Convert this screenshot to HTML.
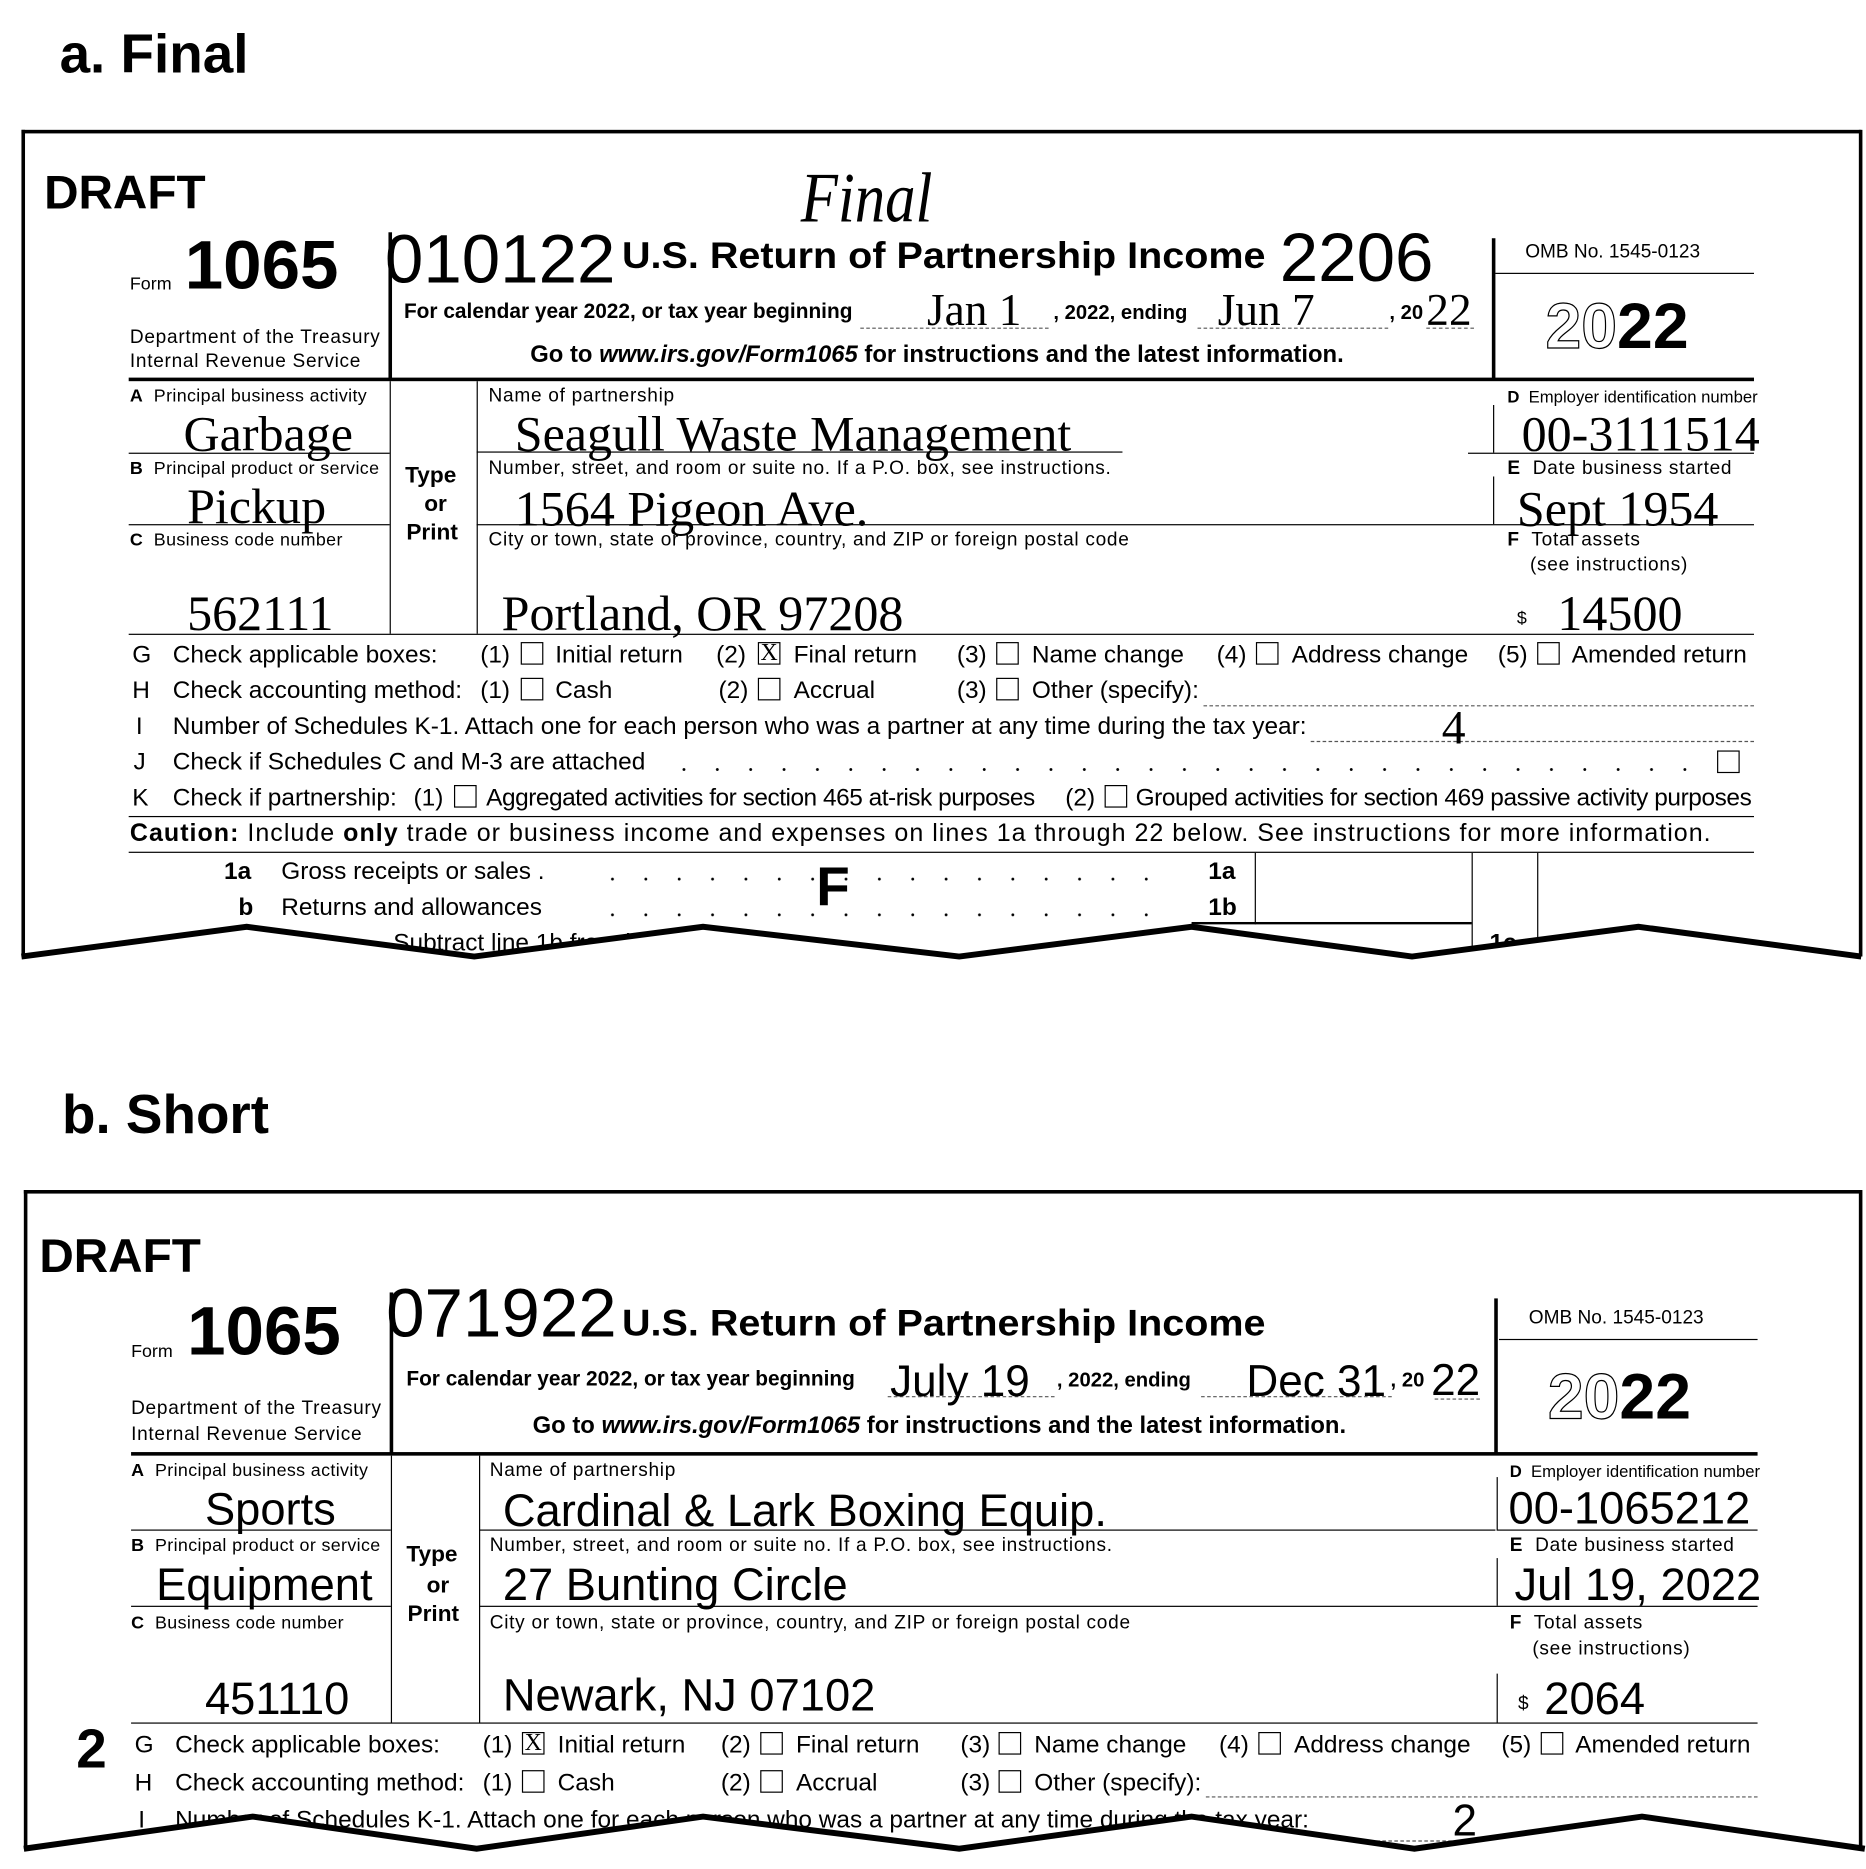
<!DOCTYPE html>
<html><head><meta charset="utf-8">
<style>
html,body{margin:0;padding:0;background:#fff;}
body{width:1866px;height:1869px;overflow:hidden;position:relative;}
#c{position:absolute;left:0;top:0;width:1566px;height:1569px;transform:scale(1.19157,1.1912);transform-origin:0 0;font-family:"Liberation Sans",sans-serif;color:#000;}
.t{position:absolute;white-space:nowrap;line-height:1;}
.s{font-family:"Liberation Serif",serif;}
.b{font-weight:bold;}
.l{font-size:16px;letter-spacing:0.6px;}
.ls{font-size:15px;letter-spacing:0.3px;}
.r{font-size:20.5px;}
.h{position:absolute;border-top:1px solid #000;height:0;}
.v{position:absolute;border-left:1px solid #000;width:0;}
.d{position:absolute;border-top:1px dashed #555;height:0;}
.cb{position:absolute;width:17px;height:17px;border:1px solid #000;font-size:20px;line-height:17px;text-align:center;font-family:"Liberation Serif",serif;}
.dots{position:absolute;height:4px;background-image:radial-gradient(circle,#000 1px,transparent 1.4px);background-size:28px 4px;}
.o{color:#fff;-webkit-text-stroke:1px #000;}
.ti{font-size:31px;transform:scaleX(1.07);transform-origin:0 0;}
</style></head><body><div id="c">

<!-- ================= PANEL A ================= -->
<div class="t b" style="left:50px;top:22px;font-size:46px;">a. Final</div>
<div class="h" style="left:18px;top:109px;width:1544px;border-top-width:3px;"></div>
<div class="v" style="left:18px;top:109px;height:694px;border-left-width:3px;"></div>
<div class="v" style="left:1560px;top:109px;height:694px;border-left-width:3px;"></div>

<div class="t b" style="left:37px;top:142px;font-size:40px;">DRAFT</div>
<div class="t s" style="left:672px;top:136px;font-size:60px;font-style:italic;transform:scaleX(0.85);transform-origin:0 0;">Final</div>
<div class="t" style="left:109px;top:231px;font-size:15px;">Form</div>
<div class="t b" style="left:155px;top:194px;font-size:58px;">1065</div>
<div class="t l" style="left:109px;top:276px;">Department of the Treasury</div>
<div class="t l" style="left:109px;top:296px;">Internal Revenue Service</div>
<div class="v" style="left:326px;top:195px;height:123px;border-left-width:3px;"></div>
<div class="t" style="left:323px;top:189px;font-size:58px;">010122</div>
<div class="t b ti" style="left:522px;top:199px;">U.S. Return of Partnership Income</div>
<div class="t" style="left:1074px;top:188px;font-size:58px;">2206</div>
<div class="t b" style="left:339px;top:253px;font-size:17.5px;">For calendar year 2022, or tax year beginning</div>
<div class="d" style="left:722px;top:275px;width:158px;"></div>
<div class="t s" style="left:778px;top:242px;font-size:38px;">Jan 1</div>
<div class="t b" style="left:884px;top:254px;font-size:17px;">, 2022, ending</div>
<div class="d" style="left:1005px;top:275px;width:160px;"></div>
<div class="t s" style="left:1022px;top:242px;font-size:38px;">Jun 7</div>
<div class="t b" style="left:1166px;top:254px;font-size:17px;">, 20</div>
<div class="t s" style="left:1197px;top:242px;font-size:38px;">22</div>
<div class="d" style="left:1197px;top:275px;width:40px;"></div>
<div class="t b" style="left:445px;top:288px;font-size:20px;">Go to <i>www.irs.gov/Form1065</i> for instructions and the latest information.</div>
<div class="v" style="left:1252px;top:200px;height:118px;border-left-width:3px;"></div>
<div class="t" style="left:1280px;top:204px;font-size:16px;">OMB No. 1545-0123</div>
<div class="h" style="left:1255px;top:229px;width:217px;"></div>
<div class="t b" style="left:1297px;top:247px;font-size:54px;"><span class="o">20</span>22</div>
<div class="h" style="left:108px;top:317px;width:1364px;border-top-width:3px;"></div>

<div class="v" style="left:327px;top:320px;height:212px;"></div>
<div class="v" style="left:400px;top:320px;height:212px;"></div>
<div class="t ls" style="left:109px;top:325px;"><b>A</b>&nbsp; Principal business activity</div>
<div class="t s" style="left:154px;top:344px;font-size:42px;">Garbage</div>
<div class="h" style="left:108px;top:380px;width:219px;"></div>
<div class="t ls" style="left:109px;top:386px;"><b>B</b>&nbsp; Principal product or service</div>
<div class="t s" style="left:157px;top:405px;font-size:42px;">Pickup</div>
<div class="h" style="left:108px;top:440px;width:219px;"></div>
<div class="t ls" style="left:109px;top:446px;"><b>C</b>&nbsp; Business code number</div>
<div class="t s" style="left:157px;top:495px;font-size:42px;">562111</div>
<div class="t b" style="left:340px;top:390px;font-size:19px;">Type</div>
<div class="t b" style="left:356px;top:414px;font-size:19px;">or</div>
<div class="t b" style="left:341px;top:438px;font-size:19px;">Print</div>
<div class="t l" style="left:410px;top:325px;">Name of partnership</div>
<div class="t s" style="left:432px;top:344px;font-size:42px;">Seagull Waste Management</div>
<div class="h" style="left:400px;top:379px;width:542px;"></div>
<div class="t l" style="left:410px;top:386px;">Number, street, and room or suite no. If a P.O. box, see instructions.</div>
<div class="t s" style="left:432px;top:407px;font-size:42px;">1564 Pigeon Ave.</div>
<div class="h" style="left:400px;top:440px;width:1072px;"></div>
<div class="t l" style="left:410px;top:446px;">City or town, state or province, country, and ZIP or foreign postal code</div>
<div class="t s" style="left:421px;top:495px;font-size:42px;">Portland, OR 97208</div>
<div class="t b" style="left:1265px;top:326px;font-size:14px;">D&nbsp; <span style="font-weight:normal">Employer identification number</span></div>
<div class="t s" style="left:1277px;top:344px;font-size:42px;">00-3111514</div>
<div class="v" style="left:1253px;top:340px;height:40px;"></div>
<div class="h" style="left:1232px;top:380px;width:240px;"></div>
<div class="t l" style="left:1265px;top:386px;"><b>E</b>&nbsp; Date business started</div>
<div class="t s" style="left:1273px;top:407px;font-size:42px;">Sept 1954</div>
<div class="v" style="left:1253px;top:400px;height:40px;"></div>
<div class="t l" style="left:1265px;top:446px;"><b>F</b>&nbsp; Total assets</div>
<div class="t l" style="left:1284px;top:467px;">(see instructions)</div>
<div class="t" style="left:1273px;top:512px;font-size:15px;">$</div>
<div class="t s" style="left:1307px;top:495px;font-size:42px;">14500</div>
<div class="h" style="left:108px;top:532px;width:1364px;"></div>

<!-- G -->
<div class="t r" style="left:111px;top:540px;">G</div>
<div class="t r" style="left:145px;top:540px;">Check applicable boxes:</div>
<div class="t r" style="left:403px;top:540px;">(1)</div><div class="cb" style="left:437px;top:539px;"></div><div class="t r" style="left:466px;top:540px;">Initial return</div>
<div class="t r" style="left:601px;top:540px;">(2)</div><div class="cb" style="left:636px;top:539px;">X</div><div class="t r" style="left:666px;top:540px;">Final return</div>
<div class="t r" style="left:803px;top:540px;">(3)</div><div class="cb" style="left:836px;top:539px;"></div><div class="t r" style="left:866px;top:540px;">Name change</div>
<div class="t r" style="left:1021px;top:540px;">(4)</div><div class="cb" style="left:1054px;top:539px;"></div><div class="t r" style="left:1084px;top:540px;">Address change</div>
<div class="t r" style="left:1257px;top:540px;">(5)</div><div class="cb" style="left:1290px;top:539px;"></div><div class="t r" style="left:1319px;top:540px;">Amended return</div>
<!-- H -->
<div class="t r" style="left:111px;top:570px;">H</div>
<div class="t r" style="left:145px;top:570px;">Check accounting method:</div>
<div class="t r" style="left:403px;top:570px;">(1)</div><div class="cb" style="left:437px;top:569px;"></div><div class="t r" style="left:466px;top:570px;">Cash</div>
<div class="t r" style="left:603px;top:570px;">(2)</div><div class="cb" style="left:636px;top:569px;"></div><div class="t r" style="left:666px;top:570px;">Accrual</div>
<div class="t r" style="left:803px;top:570px;">(3)</div><div class="cb" style="left:836px;top:569px;"></div><div class="t r" style="left:866px;top:570px;">Other (specify):</div>
<div class="d" style="left:1010px;top:592px;width:462px;"></div>
<!-- I -->
<div class="t r" style="left:114px;top:600px;">I</div>
<div class="t r" style="left:145px;top:600px;">Number of Schedules K-1. Attach one for each person who was a partner at any time during the tax year:</div>
<div class="d" style="left:1100px;top:622px;width:372px;"></div>
<div class="t s" style="left:1210px;top:591px;font-size:40px;">4</div>
<!-- J -->
<div class="t r" style="left:112px;top:630px;">J</div>
<div class="t r" style="left:145px;top:630px;">Check if Schedules C and M-3 are attached</div>
<div class="dots" style="left:560px;top:644px;width:880px;"></div>
<div class="cb" style="left:1441px;top:630px;"></div>
<!-- K -->
<div class="t r" style="left:111px;top:660px;">K</div>
<div class="t r" style="left:145px;top:660px;">Check if partnership:</div>
<div class="t r" style="left:347px;top:660px;">(1)</div><div class="cb" style="left:381px;top:659px;"></div>
<div class="t r" style="left:408px;top:660px;letter-spacing:-0.4px;">Aggregated activities for section 465 at-risk purposes</div>
<div class="t r" style="left:894px;top:660px;">(2)</div><div class="cb" style="left:927px;top:659px;"></div>
<div class="t r" style="left:953px;top:660px;letter-spacing:-0.35px;">Grouped activities for section 469 passive activity purposes</div>
<div class="h" style="left:108px;top:685px;width:1364px;"></div>
<div class="t" style="left:109px;top:689px;font-size:21px;letter-spacing:0.85px;"><b>Caution:</b> Include <b>only</b> trade or business income and expenses on lines 1a through 22 below. See instructions for more information.</div>
<div class="h" style="left:108px;top:715px;width:1364px;"></div>
<div class="t b r" style="left:188px;top:722px;">1a</div>
<div class="t r" style="left:236px;top:722px;">Gross receipts or sales .</div>
<div class="dots" style="left:500px;top:736px;width:480px;"></div>
<div class="t b" style="left:685px;top:721px;font-size:46px;">F</div>
<div class="t b r" style="left:1014px;top:722px;">1a</div>
<div class="t b r" style="left:200px;top:752px;">b</div>
<div class="t r" style="left:236px;top:752px;">Returns and allowances</div>
<div class="dots" style="left:500px;top:766px;width:480px;"></div>
<div class="t b r" style="left:1014px;top:752px;">1b</div>
<div class="v" style="left:1053px;top:716px;height:60px;"></div>
<div class="v" style="left:1235px;top:716px;height:90px;"></div>
<div class="v" style="left:1290px;top:716px;height:90px;"></div>
<div class="h" style="left:1000px;top:774px;width:235px;border-top-width:2px;"></div>
<div class="t r" style="left:330px;top:782px;">Subtract line 1b from line 1a</div>
<div class="t b r" style="left:1250px;top:782px;">1c</div>

<!-- ================= PANEL B ================= -->
<div class="t b" style="left:52px;top:912px;font-size:46px;">b. Short</div>
<div class="h" style="left:20px;top:999px;width:1542px;border-top-width:3px;"></div>
<div class="v" style="left:20px;top:999px;height:555px;border-left-width:3px;"></div>
<div class="v" style="left:1560px;top:999px;height:555px;border-left-width:3px;"></div>

<div class="t b" style="left:33px;top:1035px;font-size:40px;">DRAFT</div>
<div class="t" style="left:110px;top:1127px;font-size:15px;">Form</div>
<div class="t b" style="left:157px;top:1089px;font-size:58px;">1065</div>
<div class="t l" style="left:110px;top:1175px;">Department of the Treasury</div>
<div class="t l" style="left:110px;top:1197px;">Internal Revenue Service</div>
<div class="v" style="left:327px;top:1085px;height:135px;border-left-width:3px;"></div>
<div class="t" style="left:324px;top:1074px;font-size:58px;">071922</div>
<div class="t b ti" style="left:522px;top:1095px;">U.S. Return of Partnership Income</div>
<div class="t b" style="left:341px;top:1149px;font-size:17.5px;">For calendar year 2022, or tax year beginning</div>
<div class="d" style="left:745px;top:1172px;width:140px;"></div>
<div class="t" style="left:747px;top:1141px;font-size:37px;">July 19</div>
<div class="t b" style="left:887px;top:1150px;font-size:17px;">, 2022, ending</div>
<div class="d" style="left:1008px;top:1172px;width:160px;"></div>
<div class="t" style="left:1046px;top:1141px;font-size:37px;">Dec 31</div>
<div class="t b" style="left:1167px;top:1150px;font-size:17px;">, 20</div>
<div class="t" style="left:1201px;top:1140px;font-size:37px;">22</div>
<div class="d" style="left:1204px;top:1174px;width:38px;"></div>
<div class="t b" style="left:447px;top:1187px;font-size:20px;">Go to <i>www.irs.gov/Form1065</i> for instructions and the latest information.</div>
<div class="v" style="left:1254px;top:1090px;height:130px;border-left-width:3px;"></div>
<div class="t" style="left:1283px;top:1099px;font-size:16px;">OMB No. 1545-0123</div>
<div class="h" style="left:1258px;top:1124px;width:217px;"></div>
<div class="t b" style="left:1299px;top:1146px;font-size:54px;"><span class="o">20</span>22</div>
<div class="h" style="left:110px;top:1219px;width:1365px;border-top-width:3px;"></div>

<div class="v" style="left:328px;top:1222px;height:224px;"></div>
<div class="v" style="left:402px;top:1222px;height:224px;"></div>
<div class="t ls" style="left:110px;top:1227px;"><b>A</b>&nbsp; Principal business activity</div>
<div class="t" style="left:172px;top:1249px;font-size:38px;">Sports</div>
<div class="h" style="left:110px;top:1284px;width:218px;"></div>
<div class="t ls" style="left:110px;top:1290px;"><b>B</b>&nbsp; Principal product or service</div>
<div class="t" style="left:131px;top:1312px;font-size:38px;">Equipment</div>
<div class="h" style="left:110px;top:1348px;width:218px;"></div>
<div class="t ls" style="left:110px;top:1355px;"><b>C</b>&nbsp; Business code number</div>
<div class="t" style="left:172px;top:1408px;font-size:38px;">451110</div>
<div class="t b" style="left:341px;top:1296px;font-size:19px;">Type</div>
<div class="t b" style="left:358px;top:1322px;font-size:19px;">or</div>
<div class="t b" style="left:342px;top:1346px;font-size:19px;">Print</div>
<div class="t l" style="left:411px;top:1227px;">Name of partnership</div>
<div class="t" style="left:422px;top:1250px;font-size:38px;">Cardinal &amp; Lark Boxing Equip.</div>
<div class="h" style="left:402px;top:1284px;width:853px;"></div>
<div class="t l" style="left:411px;top:1290px;">Number, street, and room or suite no. If a P.O. box, see instructions.</div>
<div class="t" style="left:422px;top:1312px;font-size:38px;">27 Bunting Circle</div>
<div class="h" style="left:402px;top:1348px;width:1073px;"></div>
<div class="t l" style="left:411px;top:1355px;">City or town, state or province, country, and ZIP or foreign postal code</div>
<div class="t" style="left:422px;top:1405px;font-size:38px;">Newark, NJ 07102</div>
<div class="t b" style="left:1267px;top:1228px;font-size:14px;">D&nbsp; <span style="font-weight:normal">Employer identification number</span></div>
<div class="t" style="left:1266px;top:1248px;font-size:38px;">00-1065212</div>
<div class="v" style="left:1256px;top:1240px;height:44px;"></div>
<div class="h" style="left:1256px;top:1284px;width:219px;"></div>
<div class="t l" style="left:1267px;top:1290px;"><b>E</b>&nbsp; Date business started</div>
<div class="t" style="left:1271px;top:1312px;font-size:38px;">Jul 19, 2022</div>
<div class="v" style="left:1256px;top:1308px;height:40px;"></div>
<div class="t l" style="left:1267px;top:1355px;"><b>F</b>&nbsp; Total assets</div>
<div class="t l" style="left:1286px;top:1377px;">(see instructions)</div>
<div class="t" style="left:1274px;top:1423px;font-size:16px;">$</div>
<div class="t" style="left:1296px;top:1408px;font-size:38px;">2064</div>
<div class="v" style="left:1256px;top:1405px;height:41px;"></div>
<div class="h" style="left:110px;top:1446px;width:1365px;"></div>

<div class="t b" style="left:64px;top:1445px;font-size:46px;">2</div>
<!-- G -->
<div class="t r" style="left:113px;top:1455px;">G</div>
<div class="t r" style="left:147px;top:1455px;">Check applicable boxes:</div>
<div class="t r" style="left:405px;top:1455px;">(1)</div><div class="cb" style="left:438px;top:1454px;">X</div><div class="t r" style="left:468px;top:1455px;">Initial return</div>
<div class="t r" style="left:605px;top:1455px;">(2)</div><div class="cb" style="left:638px;top:1454px;"></div><div class="t r" style="left:668px;top:1455px;">Final return</div>
<div class="t r" style="left:806px;top:1455px;">(3)</div><div class="cb" style="left:838px;top:1454px;"></div><div class="t r" style="left:868px;top:1455px;">Name change</div>
<div class="t r" style="left:1023px;top:1455px;">(4)</div><div class="cb" style="left:1056px;top:1454px;"></div><div class="t r" style="left:1086px;top:1455px;">Address change</div>
<div class="t r" style="left:1260px;top:1455px;">(5)</div><div class="cb" style="left:1293px;top:1454px;"></div><div class="t r" style="left:1322px;top:1455px;">Amended return</div>
<!-- H -->
<div class="t r" style="left:113px;top:1487px;">H</div>
<div class="t r" style="left:147px;top:1487px;">Check accounting method:</div>
<div class="t r" style="left:405px;top:1487px;">(1)</div><div class="cb" style="left:438px;top:1486px;"></div><div class="t r" style="left:468px;top:1487px;">Cash</div>
<div class="t r" style="left:605px;top:1487px;">(2)</div><div class="cb" style="left:638px;top:1486px;"></div><div class="t r" style="left:668px;top:1487px;">Accrual</div>
<div class="t r" style="left:806px;top:1487px;">(3)</div><div class="cb" style="left:838px;top:1486px;"></div><div class="t r" style="left:868px;top:1487px;">Other (specify):</div>
<div class="d" style="left:1012px;top:1508px;width:463px;"></div>
<!-- I -->
<div class="t r" style="left:116px;top:1518px;">I</div>
<div class="t r" style="left:147px;top:1518px;">Number of Schedules K-1. Attach one for each person who was a partner at any time during the tax year:</div>
<div class="d" style="left:1140px;top:1545px;width:335px;"></div>
<div class="t" style="left:1219px;top:1510px;font-size:37px;">2</div>

<!-- waves -->
<svg width="1566" height="1569" style="position:absolute;left:0;top:0;">
<polygon fill="#fff" points="18,803 207,778 398,803 590,778 805,803 1000,778 1185,803 1375,778 1562,803 1566,803 1566,900 0,900 0,803" />
<polygon fill="#fff" points="20,1552 212,1525 400,1552 590,1525 805,1552 1000,1525 1187,1552 1378,1525 1565,1552 1566,1552 1566,1569 0,1569 0,1552" />
<polyline fill="none" stroke="#000" stroke-width="5" stroke-linejoin="miter" points="18,803 207,778 398,803 590,778 805,803 1000,778 1185,803 1375,778 1562,803" />
<polyline fill="none" stroke="#000" stroke-width="5" stroke-linejoin="miter" points="20,1552 212,1525 400,1552 590,1525 805,1552 1000,1525 1187,1552 1378,1525 1565,1552" />
</svg>
</div></body></html>
